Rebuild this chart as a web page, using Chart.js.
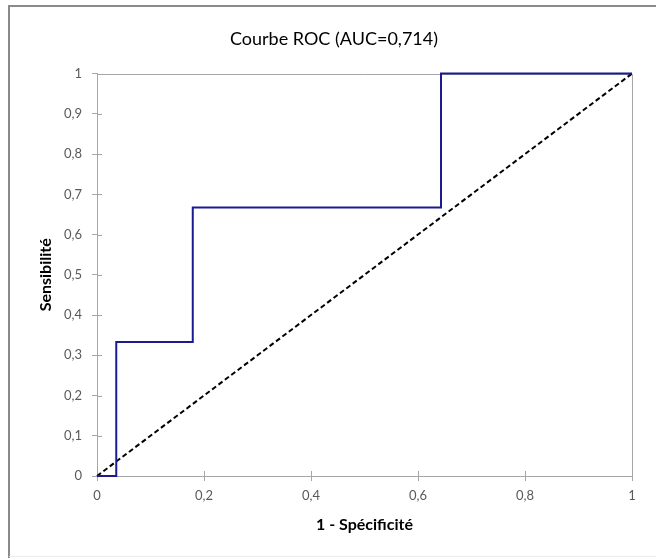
<!DOCTYPE html>
<html>
<head>
<meta charset="utf-8">
<script src="https://cdn.jsdelivr.net/npm/chart.js@4.4.1/dist/chart.umd.min.js"></script>
<style>
  html, body { margin: 0; padding: 0; background: #fff; }
  #wrap { position: relative; width: 656px; height: 558px; }
</style>
</head>
<body>
<div id="wrap"><canvas id="roc" width="656" height="558"></canvas></div>
<script>
// ROC curve (step shape) and chance diagonal
const rocX = [0, 0.036, 0.036, 0.179, 0.179, 0.643, 0.643, 1];
const rocY = [0, 0, 0.333, 0.333, 0.667, 0.667, 1, 1];
const diagX = [0, 1];
const diagY = [0, 1];

const xTickLabels = ['0', '0,2', '0,4', '0,6', '0,8', '1'];
const yTickLabels = ['0', '0,1', '0,2', '0,3', '0,4', '0,5', '0,6', '0,7', '0,8', '0,9', '1'];

const chartTitle = 'Courbe ROC (AUC=0,714)';
const xTitle = '1 - Spécificité';
const yTitle = 'Sensibilité';

const FONT = 'Lato';
const AXIS_GREY = '#a6a6a6';

// frame round the whole chart + box round the plot + crossing tick marks
const framePlugin = {
    id: 'frame',
    beforeDraw(chart) {
        const ctx = chart.ctx;
        ctx.save();
        ctx.fillStyle = '#fff';
        ctx.fillRect(0, 0, chart.width, chart.height);
        ctx.strokeStyle = '#8a8a8a';
        ctx.lineWidth = 2;
        ctx.beginPath();
        ctx.moveTo(9, chart.height);
        ctx.lineTo(9, 6);
        ctx.lineTo(chart.width, 6);
        ctx.stroke();
        ctx.strokeStyle = '#ececec';
        ctx.lineWidth = 1;
        ctx.beginPath();
        ctx.moveTo(9, 556.5);
        ctx.lineTo(chart.width, 556.5);
        ctx.stroke();
        ctx.restore();
    },
    beforeDatasetsDraw(chart) {
        const ctx = chart.ctx;
        const a = chart.chartArea;
        const xs = chart.scales.x;
        const ys = chart.scales.y;
        ctx.save();
        ctx.strokeStyle = AXIS_GREY;
        ctx.lineWidth = 1;
        ctx.beginPath();
        ctx.moveTo(a.left, Math.round(a.top) + 0.5);
        ctx.lineTo(Math.round(a.right) + 0.5, Math.round(a.top) + 0.5);
        ctx.lineTo(Math.round(a.right) + 0.5, a.bottom);
        // inner half of the tick marks
        xs.ticks.forEach(t => {
            const px = Math.round(xs.getPixelForValue(t.value)) + 0.5;
            if (t.value > 0 && t.value < 1) {
                ctx.moveTo(px, a.bottom);
                ctx.lineTo(px, a.bottom - 5);
            }
        });
        ys.ticks.forEach(t => {
            const py = Math.round(ys.getPixelForValue(t.value)) + 0.5;
            if (t.value > 0 && t.value < 1) {
                ctx.moveTo(a.left, py);
                ctx.lineTo(a.left + 5, py);
            }
        });
        ctx.stroke();
        ctx.restore();
    }
};

new Chart(document.getElementById('roc'), {
    type: 'line',
    data: {
        datasets: [
            {
                label: 'ROC',
                data: rocX.map((x, i) => ({ x: x, y: rocY[i] })),
                borderColor: '#1b1b8f',
                borderWidth: 2,
                pointRadius: 0,
                tension: 0,
                fill: false,
                clip: 4
            },
            {
                label: 'Diagonale',
                data: diagX.map((x, i) => ({ x: x, y: diagY[i] })),
                borderColor: '#000',
                borderWidth: 2,
                borderDash: [5, 3],
                pointRadius: 0,
                fill: false,
                clip: 4
            }
        ]
    },
    options: {
        responsive: false,
        animation: false,
        layout: { padding: { left: 36, right: 24, top: 0, bottom: 20 } },
        plugins: {
            legend: { display: false },
            tooltip: { enabled: false },
            title: {
                display: true,
                text: chartTitle,
                color: '#000',
                font: { family: FONT, size: 18, weight: 'normal' },
                padding: { top: 28, bottom: 24 }
            }
        },
        scales: {
            x: {
                type: 'linear',
                min: 0,
                max: 1,
                afterBuildTicks: (scale) => {
                    scale.ticks = xTickLabels.map((l, i) => ({ value: i * 0.2 }));
                },
                ticks: {
                    color: '#595959',
                    font: { family: FONT, size: 13 },
                    padding: 7,
                    maxRotation: 0,
                    callback: (v, i) => xTickLabels[i]
                },
                grid: { drawOnChartArea: false, drawTicks: true, tickLength: 5, color: AXIS_GREY },
                border: { color: AXIS_GREY },
                title: {
                    display: true,
                    text: xTitle,
                    color: '#000',
                    font: { family: FONT, size: 16, weight: 'bold' },
                    padding: { top: 2 }
                },
                afterFit: (scale) => { scale.height = 62; }
            },
            y: {
                type: 'linear',
                min: 0,
                max: 1,
                afterBuildTicks: (scale) => {
                    scale.ticks = yTickLabels.map((l, i) => ({ value: i / 10 }));
                },
                ticks: {
                    color: '#595959',
                    font: { family: FONT, size: 13 },
                    padding: 10,
                    callback: (v, i) => yTickLabels[i]
                },
                grid: { drawOnChartArea: false, drawTicks: true, tickLength: 5, color: AXIS_GREY },
                border: { color: AXIS_GREY },
                title: {
                    display: true,
                    text: yTitle,
                    color: '#000',
                    font: { family: FONT, size: 16, weight: 'bold' },
                    padding: { top: 0, bottom: 4 }
                },
                afterFit: (scale) => { scale.width = 61; }
            }
        }
    },
    plugins: [framePlugin]
});
</script>
</body>
</html>
